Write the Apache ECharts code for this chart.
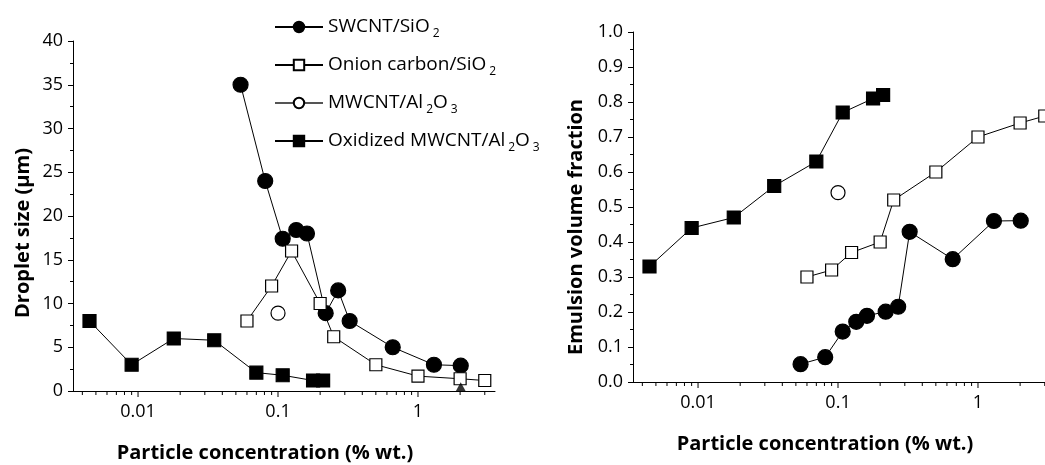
<!DOCTYPE html>
<html>
<head>
<meta charset="utf-8">
<script src="https://cdn.jsdelivr.net/npm/echarts@6/dist/echarts.min.js"></script>
<style>html,body{margin:0;padding:0;background:#fff;}#c{width:1045px;height:465px;}</style>
</head>
<body>
<div id="c"></div>
<script>
// ---- data ----
const swcntX = [0.054, 0.081, 0.108, 0.135, 0.161, 0.219, 0.269, 0.325, 0.66, 1.3, 2.02];
const swcntDroplet = [35.0, 24.0, 17.4, 18.4, 18.0, 8.9, 11.5, 8.0, 5.0, 3.0, 2.9];
const swcntFraction = [0.051, 0.071, 0.144, 0.172, 0.189, 0.201, 0.215, 0.429, 0.351, 0.460, 0.461];

const onionX = [0.06, 0.09, 0.125, 0.2, 0.25, 0.5, 1.0, 2.0, 3.0];
const onionDroplet = [8.0, 12.0, 16.0, 10.0, 6.2, 3.0, 1.7, 1.4, 1.2];
const onionFraction = [0.30, 0.32, 0.37, 0.40, 0.52, 0.60, 0.70, 0.74, 0.76];

const mwcntX = [0.1];
const mwcntDroplet = [8.9];
const mwcntFraction = [0.541];

const oxX = [0.0045, 0.009, 0.018, 0.035, 0.07, 0.108, 0.178, 0.21];
const oxDroplet = [8.0, 3.0, 6.0, 5.8, 2.1, 1.8, 1.2, 1.2];
const oxFraction = [0.33, 0.44, 0.47, 0.56, 0.63, 0.77, 0.81, 0.82];

const extraX = [2.02];
const extraDroplet = [0.5];

const seriesNames = ['SWCNT/SiO2', 'Onion carbon/SiO2', 'MWCNT/Al2O3', 'Oxidized MWCNT/Al2O3'];
const legendRich = {
  'SWCNT/SiO2': 'SWCNT/SiO{sub|2}',
  'Onion carbon/SiO2': 'Onion carbon/SiO{sub|2}',
  'MWCNT/Al2O3': 'MWCNT/Al{sub|2}O{sub|3}',
  'Oxidized MWCNT/Al2O3': 'Oxidized MWCNT/Al{sub|2}O{sub|3}'
};

const xMajorTicks = [0.01, 0.1, 1];
const xMinorTicks = [0.004, 0.005, 0.006, 0.007, 0.008, 0.009,
  0.02, 0.03, 0.04, 0.05, 0.06, 0.07, 0.08, 0.09,
  0.2, 0.3, 0.4, 0.5, 0.6, 0.7, 0.8, 0.9, 2, 3];

const xMin = 0.00343, xMax = 3.55;

// ---- chart ----
const chart = echarts.init(document.getElementById('c'), null, {renderer: 'canvas'});
const FONT = '"Open Sans", "Noto Sans", sans-serif';
const pair = (xs, ys) => xs.map((x, i) => [x, ys[i]]);

function xAxisDef(gridIndex) {
  return {
    type: 'log', logBase: 10, gridIndex, min: xMin, max: xMax,
    axisLine: {show: true, lineStyle: {color: '#000', width: 1}},
    axisTick: {show: false},
    minorTick: {show: false},
    splitLine: {show: false},
    axisLabel: {
      color: '#000', fontSize: 18, fontFamily: FONT, margin: 12,
      showMinLabel: false, showMaxLabel: false,
      formatter: v => String(+Number(v).toPrecision(6))
    },
    name: 'Particle concentration (% wt.)',
    nameLocation: 'middle', nameGap: 52,
    nameTextStyle: {color: '#000', fontSize: 20, fontWeight: 'bold', fontFamily: FONT, padding: [0, 38, 0, 0]}
  };
}

function tickSeries(xAxisIndex, yAxisIndex, values, len) {
  return {
    type: 'custom', xAxisIndex, yAxisIndex, silent: true, clip: false, z: 1,
    data: values.map(v => [v, 0]),
    encode: {x: 0, y: 1},
    renderItem: (params, api) => {
      const p = api.coord([api.value(0), api.value(1)]);
      return {type: 'line', shape: {x1: p[0], y1: p[1], x2: p[0], y2: p[1] + len},
        style: {stroke: '#000', lineWidth: 1}};
    }
  };
}

function lineSeries(name, xs, ys, xi, yi, symbol, size, fill) {
  return {
    name, type: 'line', xAxisIndex: xi, yAxisIndex: yi,
    data: pair(xs, ys),
    symbol, symbolSize: size, showSymbol: true,
    lineStyle: {color: name === 'MWCNT/Al2O3' ? '#555' : '#000', width: 1},
    itemStyle: {color: fill, borderColor: '#000', borderWidth: 1.2},
    z: 3, animation: false
  };
}

const option = {
  animation: false,
  backgroundColor: '#fff',
  textStyle: {fontFamily: FONT},
  grid: [
    {left: 73, top: 41, width: 422, height: 350, outerBoundsMode: 'none', containLabel: false},
    {left: 633, top: 32, width: 422, height: 350, outerBoundsMode: 'none', containLabel: false}
  ],
  legend: {
    data: seriesNames,
    orient: 'vertical', left: 269, top: 9,
    itemWidth: 48, itemHeight: 13, itemGap: 12,
    textStyle: {
      color: '#000', fontSize: 19, fontFamily: FONT, lineHeight: 22,
      rich: {sub: {fontSize: 12, fontFamily: FONT, color: '#000', padding: [14, 0, 0, 3], lineHeight: 22}}
    },
    formatter: n => legendRich[n] || n
  },
  xAxis: [xAxisDef(0), xAxisDef(1)],
  yAxis: [
    {
      type: 'value', gridIndex: 0, min: 0, max: 40, interval: 5,
      axisLine: {show: true, lineStyle: {color: '#000'}},
      axisTick: {show: true, length: 5, lineStyle: {color: '#000'}},
      minorTick: {show: true, splitNumber: 2, length: 3, lineStyle: {color: '#000'}},
      splitLine: {show: false},
      axisLabel: {color: '#000', fontSize: 18, fontFamily: FONT, margin: 10},
      name: 'Droplet size (μm)', nameLocation: 'middle', nameGap: 40,
      nameTextStyle: {color: '#000', fontSize: 20, fontWeight: 'bold', fontFamily: FONT, padding: [0, 34, 0, 0]}
    },
    {
      type: 'value', gridIndex: 1, min: 0, max: 1, interval: 0.1,
      axisLine: {show: true, lineStyle: {color: '#000'}},
      axisTick: {show: true, length: 5, lineStyle: {color: '#000'}},
      minorTick: {show: true, splitNumber: 2, length: 3, lineStyle: {color: '#000'}},
      splitLine: {show: false},
      axisLabel: {color: '#000', fontSize: 18, fontFamily: FONT, margin: 10, formatter: v => v.toFixed(1)},
      name: 'Emulsion volume fraction', nameLocation: 'middle', nameGap: 47,
      nameTextStyle: {color: '#000', fontSize: 20, fontWeight: 'bold', fontFamily: FONT, padding: [0, 40, 0, 0]}
    }
  ],
  series: [
    lineSeries('SWCNT/SiO2', swcntX, swcntDroplet, 0, 0, 'circle', 15, '#000'),
    lineSeries('Onion carbon/SiO2', onionX, onionDroplet, 0, 0, 'rect', 12, '#fff'),
    lineSeries('MWCNT/Al2O3', mwcntX, mwcntDroplet, 0, 0, 'circle', 14, '#fff'),
    lineSeries('Oxidized MWCNT/Al2O3', oxX, oxDroplet, 0, 0, 'rect', 13, '#000'),
    {
      name: 'extra', type: 'scatter', xAxisIndex: 0, yAxisIndex: 0,
      data: pair(extraX, extraDroplet), symbol: 'triangle', symbolSize: [10, 9],
      itemStyle: {color: '#000'}, z: 5, clip: false
    },
    lineSeries('SWCNT/SiO2', swcntX, swcntFraction, 1, 1, 'circle', 15, '#000'),
    lineSeries('Onion carbon/SiO2', onionX, onionFraction, 1, 1, 'rect', 12, '#fff'),
    lineSeries('MWCNT/Al2O3', mwcntX, mwcntFraction, 1, 1, 'circle', 14, '#fff'),
    lineSeries('Oxidized MWCNT/Al2O3', oxX, oxFraction, 1, 1, 'rect', 13, '#000'),
    tickSeries(0, 0, xMajorTicks, 6),
    tickSeries(0, 0, xMinorTicks, 4),
    tickSeries(1, 1, xMajorTicks, 6),
    tickSeries(1, 1, xMinorTicks, 4)
  ]
};
chart.setOption(option);
</script>
</body>
</html>
